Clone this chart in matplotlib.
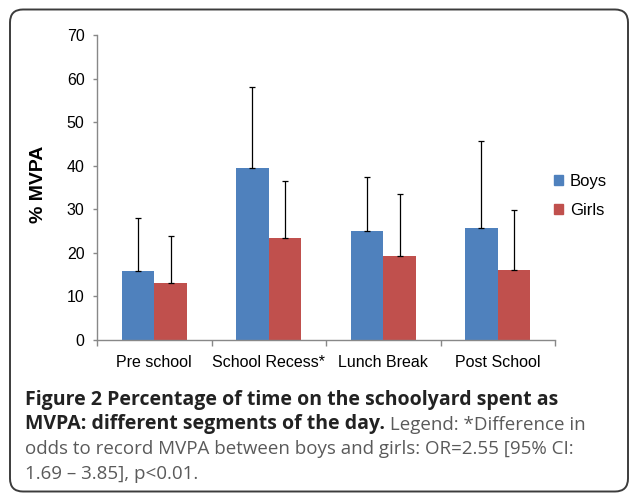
import numpy as np
import matplotlib.pyplot as plt
from matplotlib.patches import FancyBboxPatch, Patch

# data
categories = ["Pre school", "School Recess*", "Lunch Break", "Post School"]
boys = [15.8, 39.5, 25.0, 25.6]
girls = [13.0, 23.4, 19.2, 16.0]
boys_err = [12.3, 18.5, 12.3, 20.1]
girls_err = [10.9, 13.0, 14.3, 13.8]
yticks = [0, 10, 20, 30, 40, 50, 60, 70]

caption_lines = [
    [("Figure 2 Percentage of time on the schoolyard spent as", "bold")],
    [("MVPA: different segments of the day.", "bold"), (" Legend: *Difference in", "normal")],
    [("odds to record MVPA between boys and girls: OR=2.55 [95% CI:", "normal")],
    [("1.69 \u2013 3.85], p<0.01.", "normal")],
]

BLUE = "#4F81BD"
RED = "#C0504D"
GREY = "#888888"
W, H = 629, 493

fig = plt.figure(figsize=(W / 100, H / 100), dpi=100)

# background axes in pixel coordinates: frame + caption
bg = fig.add_axes([0, 0, 1, 1])
bg.set_xlim(0, W)
bg.set_ylim(H, 0)
bg.axis("off")
frame = FancyBboxPatch((10, 9.5), 618, 482,
                       boxstyle="round,pad=0,rounding_size=13",
                       fill=False, edgecolor="#3c3c3c", linewidth=1.4)
bg.add_patch(frame)

CAP_FS = {"bold": 14, "normal": 13.5}
line_y = [397, 422, 447, 472]
for parts, y in zip(caption_lines, line_y):
    prev = None
    for txt, wt in parts:
        color = "#222222" if wt == "bold" else "#5a5a5a"
        kw = dict(fontsize=CAP_FS[wt], fontweight=wt, family="Open Sans", color=color)
        if prev is None:
            prev = bg.text(25, y, txt, va="center_baseline", ha="left", **kw)
        else:
            prev = bg.annotate(txt, xy=(1, 0), xycoords=prev, va="bottom", ha="left", **kw)

# ── chart ────────────────────────────────────────────────
ax = fig.add_axes([97 / W, 1 - 340 / H, (555 - 97) / W, (340 - 35) / H])
x = np.arange(len(categories))
bw = 0.284
ax.bar(x - bw / 2, boys, width=bw, color=BLUE, label="Boys",
       yerr=[np.zeros(len(boys)), boys_err],
       error_kw=dict(ecolor="black", elinewidth=0.9, capsize=2.5, capthick=0.9))
ax.bar(x + bw / 2, girls, width=bw, color=RED, label="Girls",
       yerr=[np.zeros(len(girls)), girls_err],
       error_kw=dict(ecolor="black", elinewidth=0.9, capsize=2.5, capthick=0.9))

ax.set_xlim(-0.5, len(categories) - 0.5)
ax.set_ylim(0, 70)
ax.set_yticks(yticks)
ax.set_xticks(np.arange(len(categories) + 1) - 0.5)
ax.set_xticklabels([])
ax.set_xticks(x, minor=True)
ax.set_xticklabels(categories, minor=True)
ax.tick_params(axis="x", which="minor", length=0, pad=11, labelsize=11.5)
ax.tick_params(axis="x", which="major", length=4, color=GREY, width=1)
ax.tick_params(axis="y", length=3, color=GREY, width=1, pad=6, labelsize=11.5)
for lab in ax.get_xticklabels(minor=True) + ax.get_yticklabels():
    lab.set_family("Liberation Sans")
for s in ["top", "right"]:
    ax.spines[s].set_visible(False)
for s in ["left", "bottom"]:
    ax.spines[s].set_color(GREY)
    ax.spines[s].set_linewidth(1)

ax.set_ylabel("% MVPA", fontsize=14, fontweight="bold", family="Liberation Sans")
ax.yaxis.set_label_coords(-0.11, 0.51)

handles = [Patch(color=BLUE, label="Boys"), Patch(color=RED, label="Girls")]
leg = fig.legend(handles=handles, loc="center left", bbox_to_anchor=(554 / W, 1 - 196 / H),
                 frameon=False, handlelength=0.56, handleheight=0.56,
                 handletextpad=0.4, labelspacing=0.85, borderpad=0, borderaxespad=0,
                 prop={"family": "Liberation Sans", "size": 12})

fig.savefig("out.png", dpi=100)
